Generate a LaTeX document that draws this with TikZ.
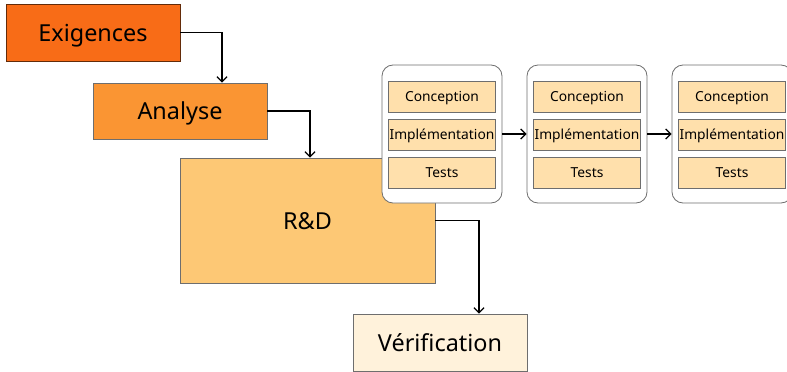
\documentclass[tikz,border=0pt]{standalone}
\usepackage{fontspec}
\setmainfont{Noto Sans}
\usetikzlibrary{arrows.meta}

\definecolor{exfill}{HTML}{F86C17}
\definecolor{anfill}{HTML}{FA9533}
\definecolor{rdfill}{HTML}{FDC875}
\definecolor{vefill}{HTML}{FFF2DB}
\definecolor{stfill}{HTML}{FFE0AC}
\definecolor{edge}{HTML}{6E6E6E}

\tikzset{
  phase/.style={draw=edge, line width=0.8pt, minimum width=174pt, minimum height=57pt,
    inner sep=0pt, text height=17.6pt, text depth=0pt,
    font=\fontsize{23.4}{26}\selectfont},
  iter/.style={draw=edge, line width=0.8pt, fill=white, rounded corners=11pt,
    minimum width=120pt, minimum height=138pt, inner sep=0pt},
  stage/.style={draw=edge, line width=0.8pt, fill=stfill, minimum width=107pt,
    minimum height=31pt, inner sep=0pt, text height=10pt, text depth=0pt,
    font=\fontsize{13.8}{16}\selectfont},
  arr/.style={black, line width=1.3pt, -{Straight Barb[length=5pt,width=10pt]}}
}

\begin{document}
\begin{tikzpicture}[x=1pt, y=-1pt]
\useasboundingbox (0,0) rectangle (787,372);
\clip (0,0) rectangle (787,372);

% main phases
\node[phase, fill=exfill, draw=black!60!exfill] (ex) at (93,32.5) {Exigences};
\node[phase, fill=anfill, minimum height=56pt] (an) at (180,111) {Analyse};
\node[phase, fill=rdfill, minimum width=255pt, minimum height=125pt] (rd) at (307.5,220.5) {R\&D};
\node[phase, fill=vefill] (ve) at (440,342.5) {Vérification};

% iterations
\foreach \i/\cx in {1/442, 2/587, 3/732} {
  \node[iter] (c\i) at (\cx,134) {};
  \node[stage] (c\i a) at (\cx,96.5) {Conception};
  \node[stage] (c\i b) at (\cx,134.5) {Implémentation};
  \node[stage] (c\i c) at (\cx,172.5) {Tests};
}

% connectors
\draw[arr] (ex.east) -| ([xshift=42pt]an.north);
\draw[arr] (an.east) -| ([xshift=2.5pt]rd.north);
\draw[arr] (rd.east) -| ([xshift=39pt]ve.north);
\draw[arr] (c1.east) -- (c2.west);
\draw[arr] (c2.east) -- (c3.west);
\end{tikzpicture}
\end{document}
